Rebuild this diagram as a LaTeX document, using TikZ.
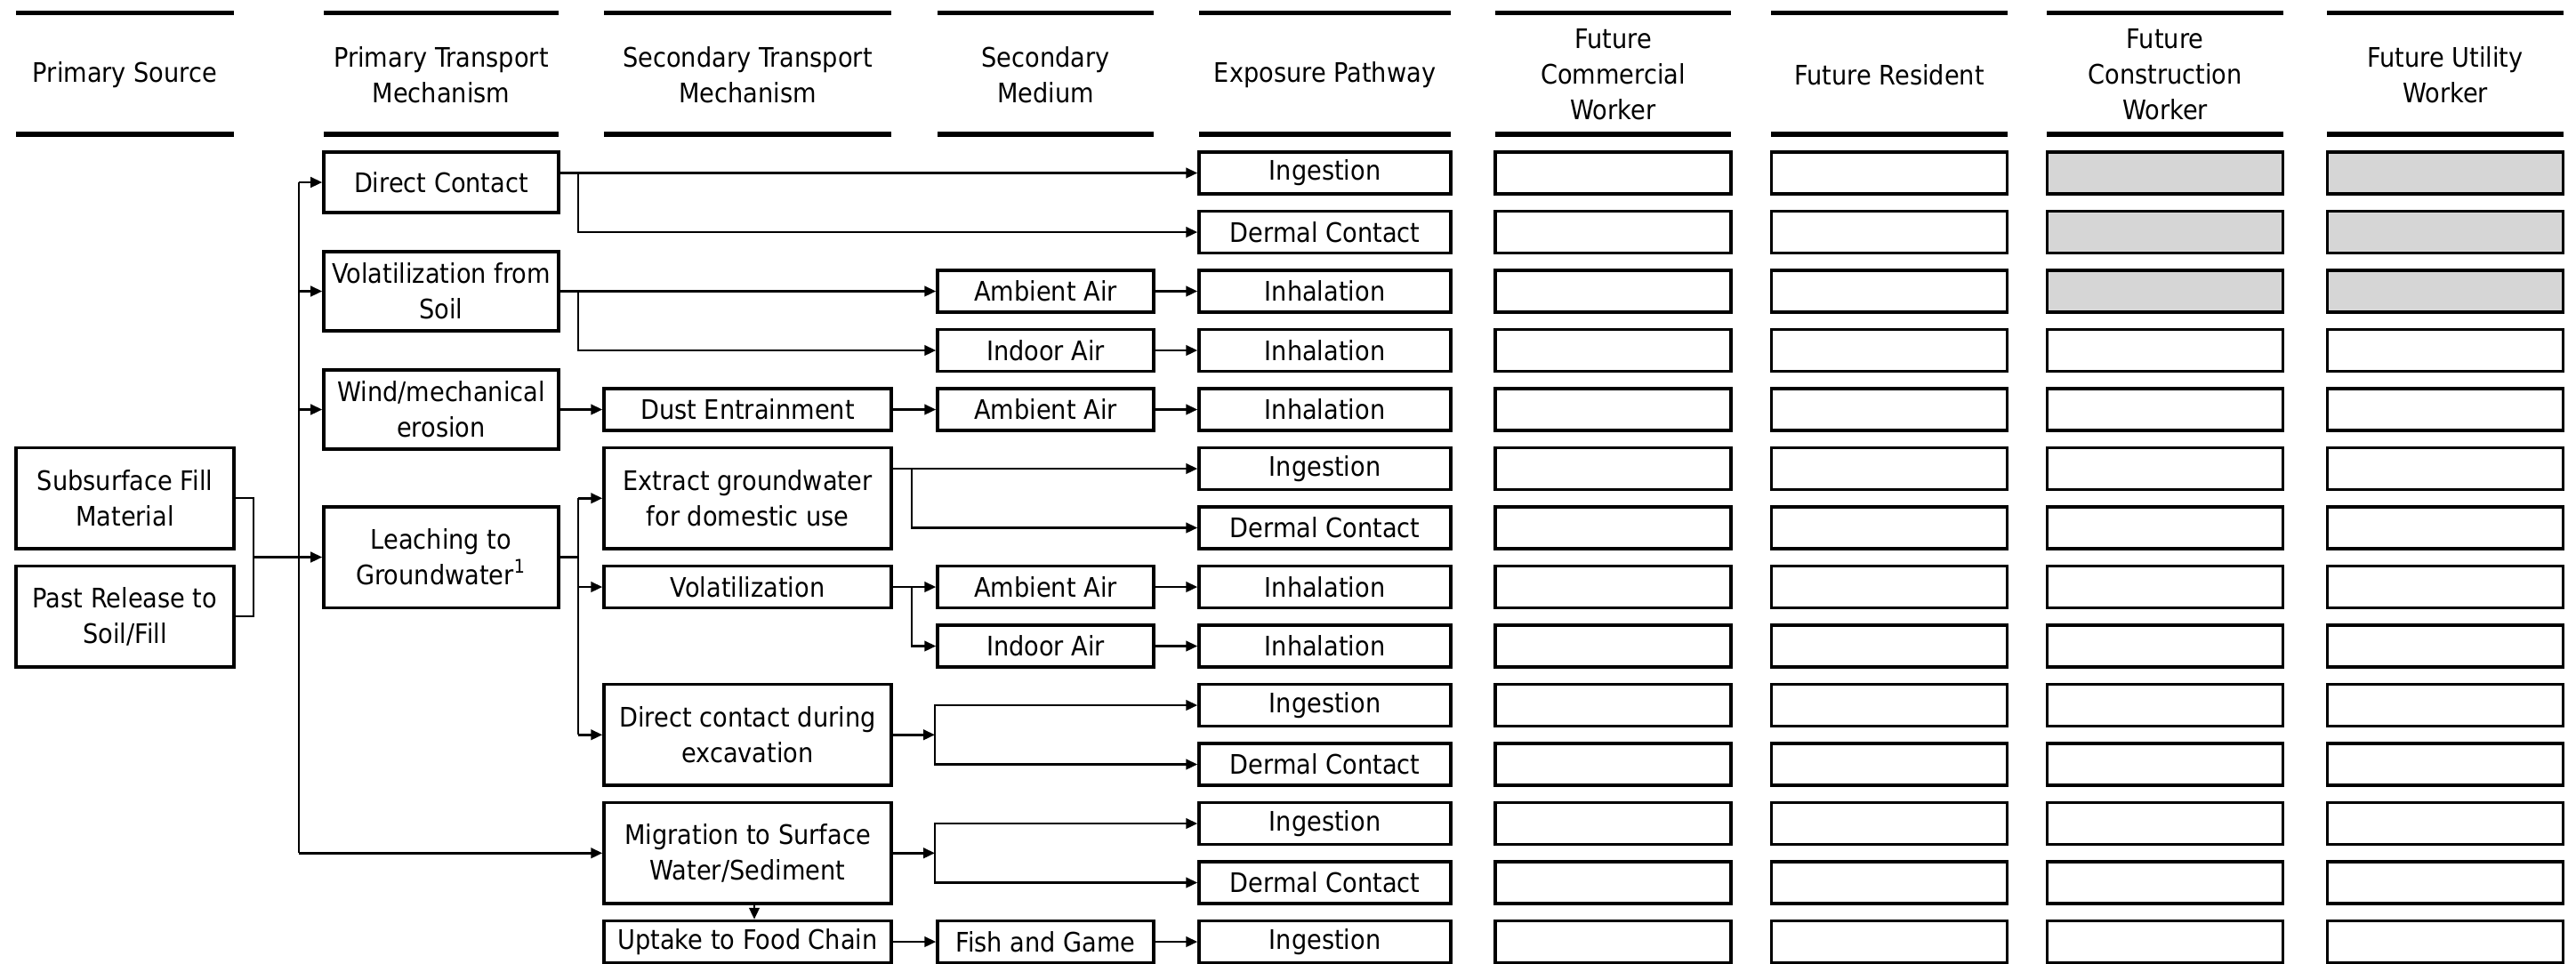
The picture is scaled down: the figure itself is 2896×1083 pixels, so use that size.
\documentclass[tikz,border=0pt]{standalone}
\usepackage{fontspec}
\setmainfont{DejaVu Sans}[FakeStretch=0.9]
\usepackage{tikz}
\usetikzlibrary{arrows.meta,positioning,calc}

\begin{document}
\begin{tikzpicture}[
    x=0.1mm, y=-0.1mm,
    every node/.style={font=\fontsize{8.6}{11.4}\selectfont},
    cell/.style={draw, line width=1pt, inner sep=0pt, align=center, minimum height=4.7mm},
    tall/.style={cell, minimum height=11.35mm},
    mid/.style={cell, minimum height=8.9mm},
    hbar/.style={line width=1.6pt},
    link/.style={line width=0.75pt},
    arr/.style={-{Triangle[length=1.3mm,width=1.15mm]}, line width=0.75pt},
  ]
  \useasboundingbox (0,0) rectangle (2896,1083);

  % Column headings between two heavy rules
  \foreach \xa/\xb/\nm/\txt in {
      18/263/h1/{Primary Source},
      364/628/h2/{Primary Transport\\Mechanism},
      679/1002/h3/{Secondary Transport\\Mechanism},
      1054/1297/h4/{Secondary\\Medium},
      1348/1631/h5/{Exposure Pathway},
      1681/1946/h6/{Future\\Commercial\\Worker},
      1991/2257/h7/{Future Resident},
      2301/2567/h8/{Future\\Construction\\Worker},
      2616/2882/h9/{Future Utility\\Worker}} {
    \draw[hbar] (\xa,14.5) -- (\xb,14.5);
    \draw[hbar] (\xa,151) -- (\xb,151);
    \node[align=center] (\nm) at ({(\xa+\xb)/2},84) {\txt};
  }

  % Primary sources
  \node[tall, minimum width=24.5mm] (sfill) at (140.5,560) {Subsurface Fill\\Material};
  \node[tall, minimum width=24.5mm] (srel) at (140.5,693) {Past Release to\\Soil/Fill};

  % Primary transport mechanisms
  \node[cell, minimum width=26.4mm, minimum height=6.8mm] (pdc) at (496,205) {Direct Contact};
  \node[mid, minimum width=26.4mm] (pvs) at (496,327.5) {Volatilization from\\Soil};
  \node[mid, minimum width=26.4mm] (pwe) at (496,460.5) {Wind/mechanical\\erosion};
  \node[tall, minimum width=26.4mm] (plg) at (496,626.5) {Leaching to\\Groundwater\textsuperscript{1}};

  % Secondary transport mechanisms
  \node[cell, minimum width=32.3mm] (sde) at (840.5,460.5) {Dust Entrainment};
  \node[tall, minimum width=32.3mm] (sex) at (840.5,560.25) {Extract groundwater\\for domestic use};
  \node[cell, minimum width=32.3mm] (svo) at (840.5,660) {Volatilization};
  \node[tall, minimum width=32.3mm] (sdc) at (840.5,826.25) {Direct contact during\\excavation};
  \node[tall, minimum width=32.3mm] (smg) at (840.5,959.25) {Migration to Surface\\Water/Sediment};
  \node[cell, minimum width=32.3mm] (sfc) at (840.5,1059) {Uptake to Food Chain};

  % Secondary media
  \foreach \k/\lab in {2/Ambient Air, 3/Indoor Air, 4/Ambient Air, 7/Ambient Air,
                       8/Indoor Air, 13/Fish and Game} {
    \node[cell, minimum width=24.3mm] (m\k) at (1175.5,{194.5+66.5*\k}) {\lab};
  }

  % Exposure pathways
  \foreach \lab [count=\k from 0] in {Ingestion, Dermal Contact, Inhalation, Inhalation,
      Inhalation, Ingestion, Dermal Contact, Inhalation, Inhalation, Ingestion,
      Dermal Contact, Ingestion, Dermal Contact, Ingestion} {
    \node[cell, minimum width=28.3mm] (e\k) at (1489.5,{194.5+66.5*\k}) {\lab};
  }

  % Receptor boxes (shaded = incomplete pathway)
  \foreach \k in {0,...,13} {
    \foreach \cx/\c in {1813.5/6, 2124/7, 2434/8, 2749/9} {
      \def\fc{white}
      \ifnum\k<3 \ifnum\c>7 \def\fc{black!16}\fi\fi
      \node[cell, minimum width=26.5mm, fill=\fc] (r\c-\k) at (\cx,{194.5+66.5*\k}) {};
    }
  }

  % Bus lines
  \coordinate (jsrc) at (285,0);
  \coordinate (jl) at (336,0);
  \coordinate (ja) at (650,0);
  \coordinate (jb) at (1025,0);
  \coordinate (jc) at (1051,0);

  % Sources to primary transport
  \draw[link] (sfill.east) -| (jsrc |- srel) -- (srel.east);
  \draw[arr] (jsrc |- plg) -- (plg.west);
  \draw[link] (jl |- pdc) -- (jl |- smg);
  \foreach \n in {pdc,pvs,pwe,smg} {
    \draw[arr] (jl |- \n) -- (\n.west);
  }

  % Direct contact
  \draw[arr] (pdc.east |- e0) -- (e0.west);
  \draw[arr] (ja |- e0) |- (e1.west);
  % Volatilization from soil
  \draw[arr] (pvs.east) -- (m2.west);
  \draw[arr] (ja |- m2) |- (m3.west);
  % Wind erosion
  \draw[arr] (pwe.east) -- (sde.west);
  \draw[arr] (sde.east) -- (m4.west);
  % Leaching
  \draw[link] (plg.east) -- (ja |- plg);
  \draw[link] (ja |- sex) -- (ja |- sdc);
  \foreach \n in {sex,svo,sdc} {
    \draw[arr] (ja |- \n) -- (\n.west);
  }
  \draw[arr] (sex.east |- e5) -- (e5.west);
  \draw[arr] (jb |- e5) |- (e6.west);
  \draw[arr] (svo.east) -- (m7.west);
  \draw[arr] (jb |- m7) |- (m8.west);
  % Excavation and surface water
  \draw[arr] (sdc.east) -- (jc |- sdc);
  \draw[arr] (jc |- sdc) |- (e9.west);
  \draw[arr] (jc |- sdc) |- (e10.west);
  \draw[arr] (smg.east) -- (jc |- smg);
  \draw[arr] (jc |- smg) |- (e11.west);
  \draw[arr] (jc |- smg) |- (e12.west);
  \draw[arr] ([xshift=0.75mm]smg.south) -- ([xshift=0.75mm]sfc.north);
  \draw[arr] (sfc.east) -- (m13.west);

  % Media to exposure pathways
  \foreach \k in {2,3,4,7,8,13} {
    \draw[arr] (m\k.east) -- (e\k.west);
  }

\end{tikzpicture}
\end{document}
